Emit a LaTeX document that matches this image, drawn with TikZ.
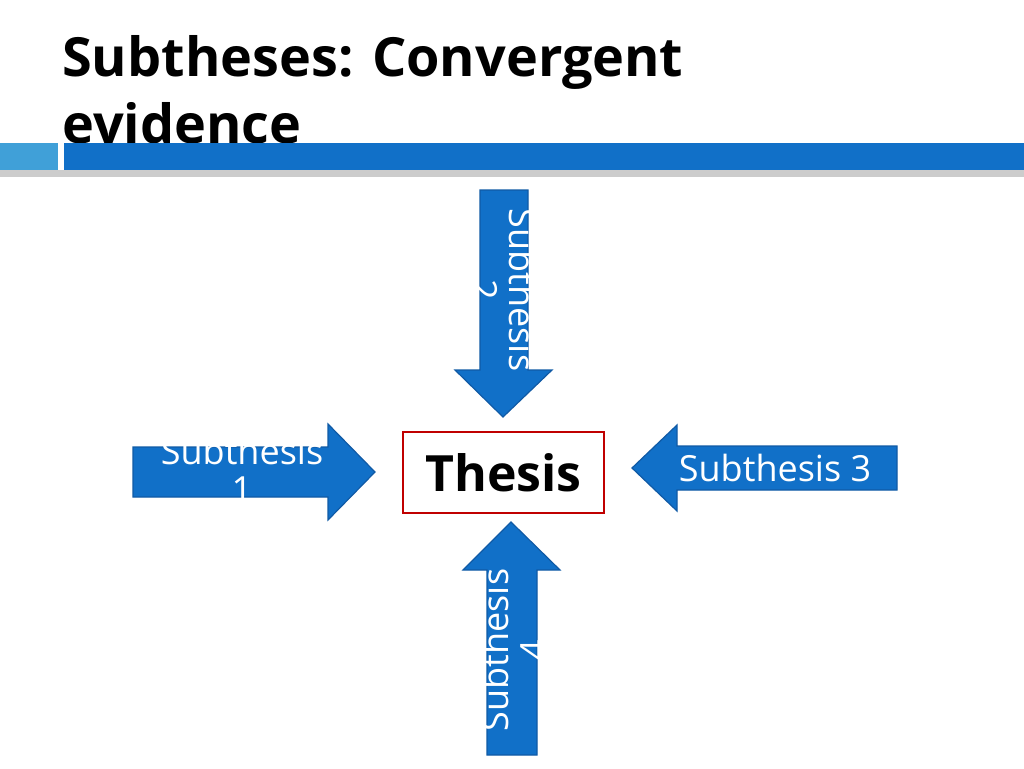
\documentclass[tikz,border=0pt]{standalone}
\usepackage{fontspec}
\setmainfont{Open Sans}
\definecolor{ablue}{RGB}{17,112,200}
\definecolor{aedge}{RGB}{16,90,165}
\definecolor{lblue}{RGB}{64,160,216}
\definecolor{tred}{RGB}{192,0,0}
\begin{document}
\begin{tikzpicture}[x=1pt,y=-1pt,
  arr/.style={fill=ablue,draw=aedge,line width=1.2pt,line join=miter},
  lab/.style={text=white,font=\fontsize{36}{38}\selectfont,align=center,inner sep=0pt}]
\useasboundingbox (0,0) rectangle (1024,768);
% title
\node[anchor=base west,font=\fontsize{54}{64}\bfseries\selectfont,inner sep=0pt] (t1) at (62,77) {Subtheses: Convergent};
\node[anchor=base west,font=\fontsize{54}{64}\bfseries\selectfont,inner sep=0pt] (t2) at (62,143) {evidence};
% bar
\fill[gray!40] (0,170) rectangle (1024,177);
\fill[lblue] (0,143) rectangle (58,170);
\fill[ablue] (64,143) rectangle (1024,170);
% top arrow
\draw[arr] (480,190) -- (528,190) -- (528,370) -- (552,370) -- (503,417) -- (455,370) -- (480,370) -- cycle;
\node[lab,rotate=-90,text width=180pt] (s2) at (504,290) {Subthesis 2};
% left arrow
\draw[arr] (133,447) -- (328,447) -- (328,424) -- (375,472) -- (328,520) -- (328,497) -- (133,497) -- cycle;
\node[lab,text width=190pt] (s1) at (242,470) {Subthesis 1};
% right arrow
\draw[arr] (897,446) -- (677,446) -- (677,425) -- (632,468) -- (677,511) -- (677,490) -- (897,490) -- cycle;
\node[lab] (s3) at (775,468) {Subthesis 3};
% bottom arrow
\draw[arr] (487,755) -- (537,755) -- (537,570) -- (560,570) -- (511,522) -- (463,570) -- (487,570) -- cycle;
\node[lab,rotate=90,text width=180pt] (s4) at (514,650) {Subthesis 4};
% thesis
\node[draw=tred,line width=2pt,minimum width=201pt,minimum height=81pt,font=\fontsize{50}{56}\bfseries\selectfont,fill=white] (th) at (503.5,472.5) {Thesis};
\end{tikzpicture}
\end{document}
